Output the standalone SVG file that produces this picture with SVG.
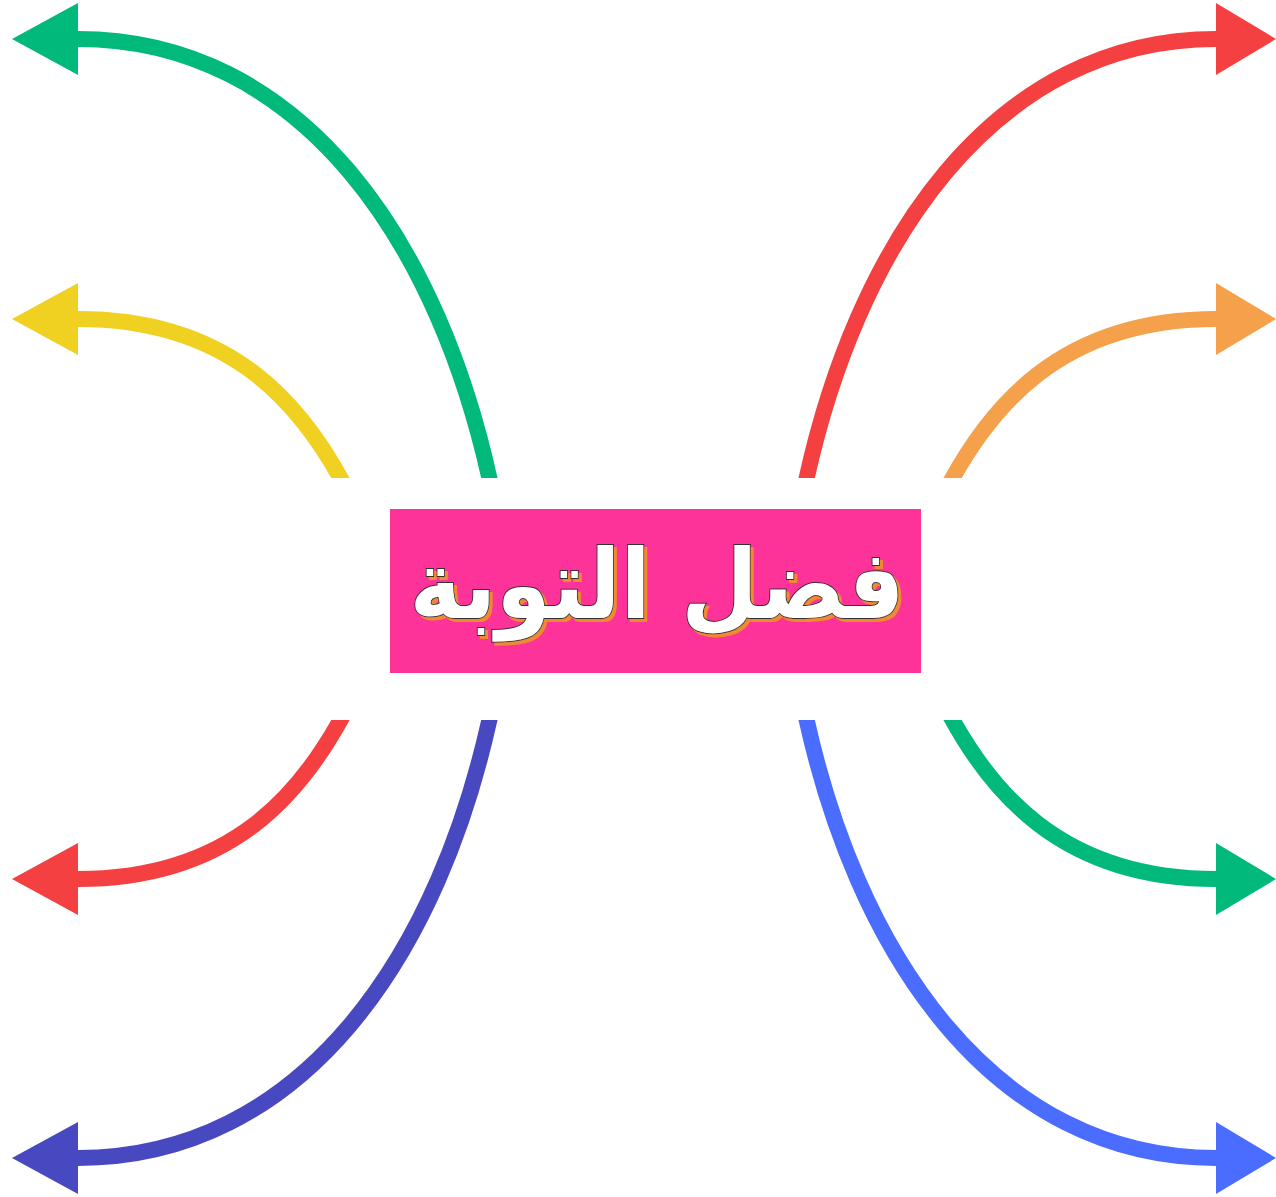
<svg xmlns="http://www.w3.org/2000/svg" width="1276" height="1197" viewBox="0 0 1276 1197">
<style>
.c{fill:none;stroke-width:16;stroke-linecap:butt}
.t{font-family:"DejaVu Sans",sans-serif;font-weight:bold;font-size:96px}
</style>
<defs>
<clipPath id="cut"><rect x="0" y="0" width="1276" height="478"/><rect x="0" y="720" width="1276" height="477"/></clipPath>
<filter id="sh" x="-5%" y="-10%" width="110%" height="130%">
<feFlood flood-color="#f08a30" result="f"/>
<feComposite in="f" in2="SourceAlpha" operator="in" result="s"/>
<feOffset in="s" dx="3" dy="3" result="o"/>
<feMerge><feMergeNode in="o"/><feMergeNode in="SourceGraphic"/></feMerge>
</filter>
<marker id="mg" viewBox="0 0 66 72" refX="0" refY="36" markerWidth="66" markerHeight="72" markerUnits="userSpaceOnUse" orient="auto"><path d="M0,0L66,36L0,72Z" fill="#00b97a"/></marker>
<marker id="my" viewBox="0 0 66 72" refX="0" refY="36" markerWidth="66" markerHeight="72" markerUnits="userSpaceOnUse" orient="auto"><path d="M0,0L66,36L0,72Z" fill="#f0d020"/></marker>
<marker id="mo" viewBox="0 0 66 72" refX="0" refY="36" markerWidth="66" markerHeight="72" markerUnits="userSpaceOnUse" orient="auto"><path d="M0,0L66,36L0,72Z" fill="#f5a04a"/></marker>
<marker id="mr" viewBox="0 0 66 72" refX="0" refY="36" markerWidth="66" markerHeight="72" markerUnits="userSpaceOnUse" orient="auto"><path d="M0,0L66,36L0,72Z" fill="#f44040"/></marker>
<marker id="mi" viewBox="0 0 66 72" refX="0" refY="36" markerWidth="66" markerHeight="72" markerUnits="userSpaceOnUse" orient="auto"><path d="M0,0L66,36L0,72Z" fill="#4848c0"/></marker>
<marker id="mb" viewBox="0 0 66 72" refX="0" refY="36" markerWidth="66" markerHeight="72" markerUnits="userSpaceOnUse" orient="auto"><path d="M0,0L66,36L0,72Z" fill="#4a6cff"/></marker>
<marker id="rg" viewBox="0 0 60 72" refX="0" refY="36" markerWidth="60" markerHeight="72" markerUnits="userSpaceOnUse" orient="auto"><path d="M0,0L60,36L0,72Z" fill="#00b97a"/></marker>
<marker id="ry" viewBox="0 0 60 72" refX="0" refY="36" markerWidth="60" markerHeight="72" markerUnits="userSpaceOnUse" orient="auto"><path d="M0,0L60,36L0,72Z" fill="#f0d020"/></marker>
<marker id="ro" viewBox="0 0 60 72" refX="0" refY="36" markerWidth="60" markerHeight="72" markerUnits="userSpaceOnUse" orient="auto"><path d="M0,0L60,36L0,72Z" fill="#f5a04a"/></marker>
<marker id="rr" viewBox="0 0 60 72" refX="0" refY="36" markerWidth="60" markerHeight="72" markerUnits="userSpaceOnUse" orient="auto"><path d="M0,0L60,36L0,72Z" fill="#f44040"/></marker>
<marker id="rb" viewBox="0 0 60 72" refX="0" refY="36" markerWidth="60" markerHeight="72" markerUnits="userSpaceOnUse" orient="auto"><path d="M0,0L60,36L0,72Z" fill="#4a6cff"/></marker>
</defs>
<rect width="1276" height="1197" fill="#ffffff"/>
<g id="connectors" clip-path="url(#cut)">
<path class="c" stroke="#00b97a" marker-end="url(#mg)" d="M494,500C442,240 300,39 78,39"/>
<path class="c" stroke="#f0d020" marker-end="url(#my)" d="M352,500C305,405 232,319 78,319"/>
<path class="c" stroke="#f5a04a" marker-end="url(#mo)" d="M242,598L78,598"/>
<path class="c" stroke="#f44040" marker-end="url(#mr)" d="M352,698C305,793 232,879 78,879"/>
<path class="c" stroke="#4848c0" marker-end="url(#mi)" d="M494,698C442,958 300,1158 78,1158"/>
<path class="c" stroke="#f44040" marker-end="url(#rr)" d="M802,500C854,240 996,39 1216,39"/>
<path class="c" stroke="#f5a04a" marker-end="url(#ro)" d="M941,500C988,405 1062,319 1216,319"/>
<path class="c" stroke="#f0d020" marker-end="url(#ry)" d="M1054,598L1216,598"/>
<path class="c" stroke="#00b97a" marker-end="url(#rg)" d="M941,698C988,793 1062,879 1216,879"/>
<path class="c" stroke="#4a6cff" marker-end="url(#rb)" d="M802,698C854,958 996,1158 1216,1158"/>
</g>
<g id="center">
<rect x="390" y="509" width="531" height="164" fill="#fe3399"/>
<text class="t" x="657" y="618" text-anchor="middle" textLength="495" lengthAdjust="spacingAndGlyphs" fill="#ffffff" stroke="#333333" stroke-width="2" paint-order="stroke" filter="url(#sh)" direction="rtl">فضل التوبة</text>
</g>
</svg>
